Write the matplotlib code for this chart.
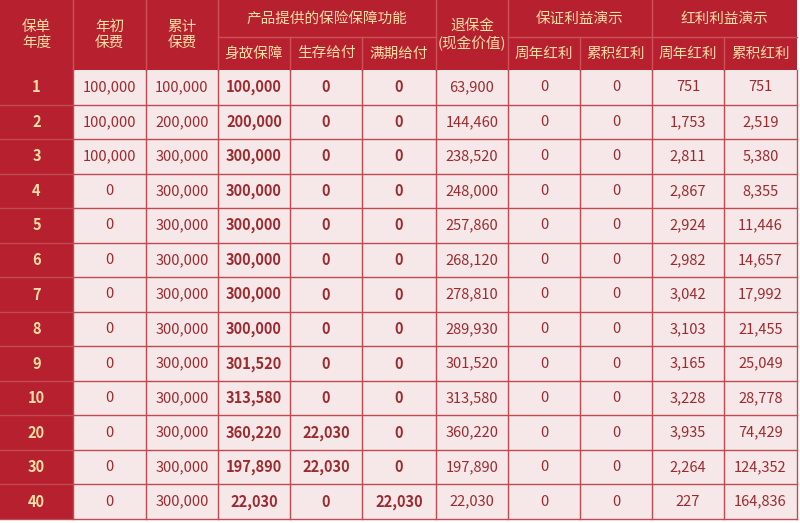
import matplotlib.pyplot as plt
from matplotlib.patches import Rectangle

plt.rcParams['font.family'] = ['Noto Sans CJK SC', 'DejaVu Sans']

years = ['1', '2', '3', '4', '5', '6', '7', '8', '9', '10', '20', '30', '40']
premium = ['100,000', '100,000', '100,000'] + ['0'] * 10
cum_premium = ['100,000', '200,000'] + ['300,000'] * 11
death = ['100,000', '200,000', '300,000', '300,000', '300,000', '300,000', '300,000',
         '300,000', '301,520', '313,580', '360,220', '197,890', '22,030']
survival = ['0'] * 10 + ['22,030', '22,030', '0']
maturity = ['0'] * 12 + ['22,030']
cash_value = ['63,900', '144,460', '238,520', '248,000', '257,860', '268,120', '278,810',
              '289,930', '301,520', '313,580', '360,220', '197,890', '22,030']
g_annual = ['0'] * 13
g_cum = ['0'] * 13
bonus_annual = ['751', '1,753', '2,811', '2,867', '2,924', '2,982', '3,042', '3,103',
                '3,165', '3,228', '3,935', '2,264', '227']
bonus_cum = ['751', '2,519', '5,380', '8,355', '11,446', '14,657', '17,992', '21,455',
             '25,049', '28,778', '74,429', '124,352', '164,836']

columns = [years, premium, cum_premium, death, survival, maturity, cash_value,
           g_annual, g_cum, bonus_annual, bonus_cum]
bold_cols = [0, 3, 4, 5]

red = '#b7212f'
gold = '#f7e0a6'
bg = '#f6e7e8'
txt = '#9c2b2f'
line = '#bf4a52'

xs = [0, 73, 146, 218, 290, 362, 436, 508, 580, 652, 724, 797]
top, mid, hbot, bot = 0, 37, 70, 519
nrow = len(years)
rh = (bot - hbot) / nrow

fig = plt.figure(figsize=(8, 5.23), dpi=100)
ax = fig.add_axes([0, 0, 1, 1])
ax.set_xlim(0, 800)
ax.set_ylim(523, 0)
ax.axis('off')
fig.patch.set_facecolor('white')

# body background
ax.add_patch(Rectangle((0, hbot), xs[-1], bot - hbot, fc=bg, ec='none'))
# header
ax.add_patch(Rectangle((0, top), xs[-1], hbot - top, fc=red, ec='none'))
# first column
ax.add_patch(Rectangle((0, hbot), xs[1], bot - hbot, fc=red, ec='none'))

# header texts
def htext(x, y, s):
    ax.text(x, y, s, ha='center', va='center', color=gold, fontsize=10.5)

for i, s in [(0, '保单\n年度'), (1, '年初\n保费'), (2, '累计\n保费'), (6, '退保金\n(现金价值)')]:
    htext((xs[i] + xs[i + 1]) / 2, hbot / 2, s)
groups = [(3, 6, '产品提供的保险保障功能'), (7, 9, '保证利益演示'), (9, 11, '红利利益演示')]
for a, b, s in groups:
    htext((xs[a] + xs[b]) / 2, mid / 2, s)
subs = {3: '身故保障', 4: '生存给付', 5: '满期给付', 7: '周年红利', 8: '累积红利',
        9: '周年红利', 10: '累积红利'}
for i, s in subs.items():
    htext((xs[i] + xs[i + 1]) / 2, (mid + hbot) / 2, s)

# header lines
lc = '#d0505a'
for i in range(1, 11):
    if i in (4, 5, 8, 10):
        ax.plot([xs[i], xs[i]], [mid, hbot], color=lc, lw=1)
    else:
        ax.plot([xs[i], xs[i]], [top, hbot], color=lc, lw=1)
ax.plot([xs[3], xs[6]], [mid, mid], color=lc, lw=1)
ax.plot([xs[7], xs[11]], [mid, mid], color=lc, lw=1)

# body
for r in range(nrow):
    yc = hbot + rh * (r + 0.5)
    for c, col in enumerate(columns):
        xc = (xs[c] + xs[c + 1]) / 2
        color = gold if c == 0 else txt
        ax.text(xc, yc, col[r], ha='center', va='center', color=color, fontsize=10.5,
                fontweight='bold' if c in bold_cols else 'normal')
for r in range(1, nrow + 1):
    y = hbot + rh * r
    ax.plot([xs[0], xs[-1]], [y, y], color=line, lw=1)
for i in range(1, len(xs)):
    ax.plot([xs[i], xs[i]], [hbot, bot], color=line, lw=1)

fig.savefig('out.png', dpi=100)
